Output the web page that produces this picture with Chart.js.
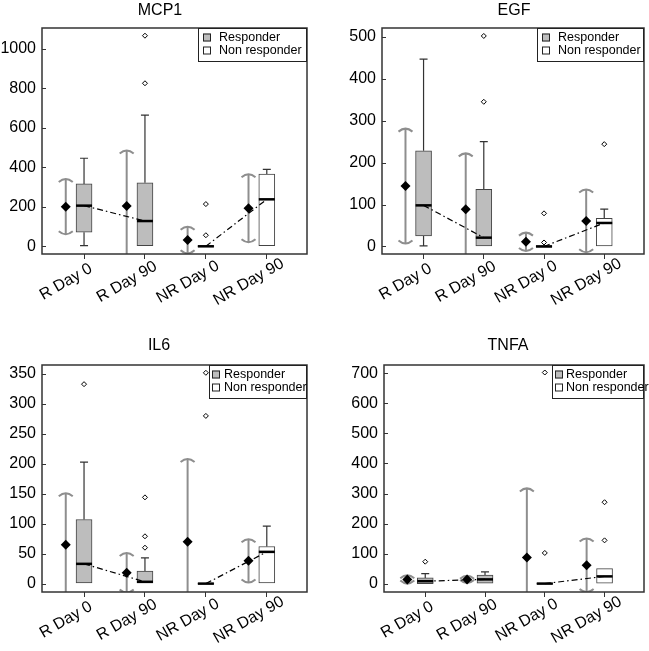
<!DOCTYPE html>
<html>
<head>
<meta charset="utf-8">
<script src="https://cdn.jsdelivr.net/npm/chart.js@4.4.1/dist/chart.umd.min.js"></script>
<style>
  body { margin: 0; background: #fff; }
  #wrap { position: relative; width: 649px; height: 651px; }
  canvas { position: absolute; }
</style>
</head>
<body>
<div id="wrap">
  <canvas id="c1" width="325" height="325" style="left:0;top:0"></canvas>
  <canvas id="c2" width="324" height="325" style="left:325px;top:0"></canvas>
  <canvas id="c3" width="325" height="326" style="left:0;top:325px"></canvas>
  <canvas id="c4" width="324" height="326" style="left:325px;top:325px"></canvas>
</div>
<script>
const categories = ['R Day 0', 'R Day 90', 'NR Day 0', 'NR Day 90'];
const legendLabels = ['Responder', 'Non responder'];

// MCP1
const mcp1Q1 = [71, 3, -3, 3];
const mcp1Median = [206, 128, 0, 238];
const mcp1Q3 = [316, 322, 4, 366];
const mcp1Low = [3, 3, -3, 3];
const mcp1High = [446, 665, 4, 390];
const mcp1Mean = [201, 204, 32, 193];
const mcp1Sd = [140, 281, 67, 172];
const mcp1Outliers = [[], [826, 1067], [56, 214], []];
const mcp1Ticks = [0, 200, 400, 600, 800, 1000];

// EGF
const egfQ1 = [25, 1, -2, 1.5];
const egfMedian = [98, 21, 0, 56];
const egfQ3 = [228, 136, 2, 67];
const egfLow = [1.5, 1, -2, 1.5];
const egfHigh = [447, 250, 2, 89];
const egfMean = [144, 89, 11, 61];
const egfSd = [137, 133, 22, 75];
const egfOutliers = [[], [345, 502], [9.5, 79], [244]];
const egfTicks = [0, 100, 200, 300, 400, 500];

// IL6
const il6Q1 = [1, 1, -1, 1];
const il6Median = [33, 3, 0, 53];
const il6Q3 = [107, 21, 1, 62];
const il6Low = [1, 1, -1, 1];
const il6High = [203, 43, 1, 96];
const il6Mean = [65, 18, 70, 38];
const il6Sd = [86, 33, 138, 36];
const il6Outliers = [[333], [60, 79, 144], [280, 352], []];
const il6Ticks = [0, 50, 100, 150, 200, 250, 300, 350];

// TNFA
const tnfaQ1 = [0, 1, -2, 1];
const tnfaMedian = [8, 14, 0, 24];
const tnfaQ3 = [19, 28, 2, 50];
const tnfaLow = [0, 1, -2, 1];
const tnfaHigh = [33, 39, 2, 50];
const tnfaMean = [14, 14, 87, 61];
const tnfaSd = [14, 12, 230, 89];
const tnfaOutliers = [[73], [], [102, 703], [144, 271]];
const tnfaTicks = [0, 100, 200, 300, 400, 500, 600, 700];

const FONT = '"Liberation Sans", Arial, Helvetica, sans-serif';
const BOX_FILL = ['#bdbdbd', '#bdbdbd', '#ffffff', '#ffffff'];
const LEGEND_FILL = ['#bdbdbd', '#ffffff'];
const MEAN_SHIFT = 0.3;
const X_MIN = 0.31, X_MAX = 4.66;

Chart.defaults.font.family = FONT;

const panels = [
  { canvas: 'c1', title: 'MCP1', q1: mcp1Q1, median: mcp1Median, q3: mcp1Q3, low: mcp1Low, high: mcp1High,
    mean: mcp1Mean, sd: mcp1Sd, outliers: mcp1Outliers, yTicks: mcp1Ticks, yMin: -39, yMax: 1106,
    area: { l: 42, r: 307, t: 28, b: 254 }, titleX: 160, titleY: 10.5, legend: { x: 198, sq: 5, tx: 21 } },
  { canvas: 'c2', title: 'EGF', q1: egfQ1, median: egfMedian, q3: egfQ3, low: egfLow, high: egfHigh,
    mean: egfMean, sd: egfSd, outliers: egfOutliers, yTicks: egfTicks, yMin: -18, yMax: 521,
    area: { l: 57, r: 321, t: 28, b: 254 }, titleX: 189, titleY: 10.5, legend: { x: 212, sq: 5, tx: 21 } },
  { canvas: 'c3', title: 'IL6', q1: il6Q1, median: il6Median, q3: il6Q3, low: il6Low, high: il6High,
    mean: il6Mean, sd: il6Sd, outliers: il6Outliers, yTicks: il6Ticks, yMin: -14, yMax: 365,
    area: { l: 42, r: 307, t: 40, b: 267 }, titleX: 159, titleY: 20.5, legend: { x: 209, sq: 3, tx: 15 } },
  { canvas: 'c4', title: 'TNFA', q1: tnfaQ1, median: tnfaMedian, q3: tnfaQ3, low: tnfaLow, high: tnfaHigh,
    mean: tnfaMean, sd: tnfaSd, outliers: tnfaOutliers, yTicks: tnfaTicks, yMin: -28, yMax: 728,
    area: { l: 59, r: 323, t: 40, b: 267 }, titleX: 183, titleY: 20.5, legend: { x: 227, sq: 3, tx: 14 } }
];

function makePlugin(p) {
  return {
    id: 'boxExtras',
    beforeDatasetsDraw(chart) {
      const { ctx, chartArea: ca, scales: { x, y } } = chart;
      ctx.save();
      ctx.beginPath();
      ctx.rect(ca.left, ca.top, ca.right - ca.left, ca.bottom - ca.top);
      ctx.clip();
      // whiskers
      ctx.strokeStyle = '#333';
      ctx.lineWidth = 1.2;
      categories.forEach((c, i) => {
        const cx = x.getPixelForValue(i + 1);
        if (p.high[i] > p.q3[i]) {
          const y1 = y.getPixelForValue(p.q3[i]), y2 = y.getPixelForValue(p.high[i]);
          ctx.beginPath();
          ctx.moveTo(cx, y1); ctx.lineTo(cx, y2);
          ctx.moveTo(cx - 4, y2); ctx.lineTo(cx + 4, y2);
          ctx.stroke();
        }
        if (p.low[i] < p.q1[i]) {
          const y1 = y.getPixelForValue(p.q1[i]), y2 = y.getPixelForValue(p.low[i]);
          ctx.beginPath();
          ctx.moveTo(cx, y1); ctx.lineTo(cx, y2);
          ctx.moveTo(cx - 4, y2); ctx.lineTo(cx + 4, y2);
          ctx.stroke();
        }
      });
      // mean +/- sd bars with curved caps
      ctx.strokeStyle = '#8e8e8e';
      ctx.lineWidth = 2;
      categories.forEach((c, i) => {
        const mx = x.getPixelForValue(i + 1 - MEAN_SHIFT);
        const yt = y.getPixelForValue(p.mean[i] + p.sd[i]);
        const yb = y.getPixelForValue(p.mean[i] - p.sd[i]);
        ctx.beginPath();
        ctx.moveTo(mx, yt); ctx.lineTo(mx, yb);
        ctx.stroke();
        ctx.beginPath();
        ctx.moveTo(mx - 7, yt + 3); ctx.quadraticCurveTo(mx, yt - 3, mx + 7, yt + 3);
        ctx.moveTo(mx - 7, yb - 3); ctx.quadraticCurveTo(mx, yb + 3, mx + 7, yb - 3);
        ctx.stroke();
      });
      ctx.restore();
    },
    afterDatasetsDraw(chart) {
      const { ctx, scales: { x, y } } = chart;
      ctx.save();
      ctx.strokeStyle = '#000';
      ctx.lineWidth = 2.5;
      categories.forEach((c, i) => {
        const cx = x.getPixelForValue(i + 1);
        const my = y.getPixelForValue(p.median[i]);
        ctx.beginPath();
        ctx.moveTo(cx - 8, my); ctx.lineTo(cx + 8, my);
        ctx.stroke();
      });
      ctx.restore();
    },
    afterDraw(chart) {
      const { ctx, chartArea: ca, scales: { x, y } } = chart;
      ctx.save();
      // frame
      ctx.strokeStyle = '#333';
      ctx.lineWidth = 1.5;
      ctx.strokeRect(ca.left, ca.top, ca.right - ca.left, ca.bottom - ca.top);
      // inner y ticks
      ctx.lineWidth = 1;
      p.yTicks.forEach(v => {
        const py = Math.round(y.getPixelForValue(v)) + 0.5;
        ctx.beginPath();
        ctx.moveTo(ca.left, py); ctx.lineTo(ca.left + 4, py);
        ctx.stroke();
      });
      // rotated category labels, centred under each tick
      ctx.fillStyle = '#000';
      ctx.font = '16px ' + FONT;
      ctx.textAlign = 'center';
      ctx.textBaseline = 'middle';
      categories.forEach((c, i) => {
        ctx.save();
        ctx.translate(x.getPixelForValue(i + 1) - 18, ca.bottom + 28);
        ctx.rotate(-Math.PI / 6);
        ctx.fillText(c, 0, 0);
        ctx.restore();
      });
      // legend
      const lg = p.legend;
      const h = 33;
      ctx.fillStyle = '#fff';
      ctx.fillRect(lg.x, ca.top, ca.right - lg.x, h);
      ctx.strokeStyle = '#222';
      ctx.lineWidth = 1;
      ctx.strokeRect(lg.x + 0.5, ca.top + 0.5, ca.right - lg.x - 1, h);
      ctx.font = '12.5px ' + FONT;
      ctx.textAlign = 'left';
      legendLabels.forEach((lab, k) => {
        const ry = ca.top + 9.5 + k * 13;
        ctx.fillStyle = LEGEND_FILL[k];
        ctx.fillRect(lg.x + lg.sq, ry - 4, 8, 8);
        ctx.strokeStyle = '#222';
        ctx.strokeRect(lg.x + lg.sq + 0.5, ry - 3.5, 7, 7);
        ctx.fillStyle = '#000';
        ctx.fillText(lab, lg.x + lg.tx, ry + 0.5);
      });
      // title
      ctx.font = '16px ' + FONT;
      ctx.textAlign = 'center';
      ctx.fillStyle = '#000';
      ctx.fillText(p.title, p.titleX, p.titleY);
      ctx.restore();
    }
  };
}

function makeChart(p) {
  const cv = document.getElementById(p.canvas);
  const a = p.area;
  const meanPts = p.mean.map((m, i) => ({ x: i + 1 - MEAN_SHIFT, y: m }));
  const outPts = [];
  p.outliers.forEach((list, i) => list.forEach(v => outPts.push({ x: i + 1, y: v })));
  new Chart(cv, {
    type: 'bar',
    data: {
      datasets: [
        { type: 'scatter', data: meanPts, pointStyle: 'rectRot', pointRadius: 5, backgroundColor: '#000',
          borderColor: '#000', borderWidth: 0, order: 0 },
        { type: 'scatter', data: outPts, pointStyle: 'rectRot', pointRadius: 2.5, backgroundColor: '#fff',
          borderColor: '#000', borderWidth: 1, order: 1 },
        { type: 'line', data: [{ x: 1, y: p.median[0] }, { x: 2, y: p.median[1] }], borderColor: '#000',
          borderWidth: 1.2, borderDash: [6, 3, 1.5, 3], pointRadius: 0, fill: false, order: 2 },
        { type: 'line', data: [{ x: 3, y: p.median[2] }, { x: 4, y: p.median[3] }], borderColor: '#000',
          borderWidth: 1.2, borderDash: [6, 3, 1.5, 3], pointRadius: 0, fill: false, order: 2 },
        { type: 'bar', data: categories.map((c, i) => ({ x: i + 1, y: [p.q1[i], p.q3[i]] })),
          barThickness: 16, backgroundColor: BOX_FILL, borderColor: '#444', borderWidth: 1,
          borderSkipped: false, order: 3 }
      ]
    },
    options: {
      responsive: false,
      animation: false,
      devicePixelRatio: 1,
      layout: { padding: { left: 0, top: a.t, right: cv.width - a.r, bottom: 0 } },
      plugins: { legend: { display: false }, tooltip: { enabled: false } },
      scales: {
        x: {
          type: 'linear', min: X_MIN, max: X_MAX, offset: false,
          afterFit: s => { s.height = cv.height - a.b; },
          afterBuildTicks: s => { s.ticks = categories.map((c, i) => ({ value: i + 1 })); },
          ticks: { display: false },
          grid: { display: true, drawOnChartArea: false, tickLength: 5, color: '#333', offset: false },
          border: { display: false }
        },
        y: {
          type: 'linear', min: p.yMin, max: p.yMax,
          afterFit: s => { s.width = a.l; },
          afterBuildTicks: s => { s.ticks = p.yTicks.map(v => ({ value: v })); },
          ticks: { color: '#000', font: { size: 16 }, padding: 6, callback: v => String(v) },
          grid: { display: false, drawTicks: false },
          border: { display: false }
        }
      }
    },
    plugins: [makePlugin(p)]
  });
}

panels.forEach(makeChart);
</script>
</body>
</html>
